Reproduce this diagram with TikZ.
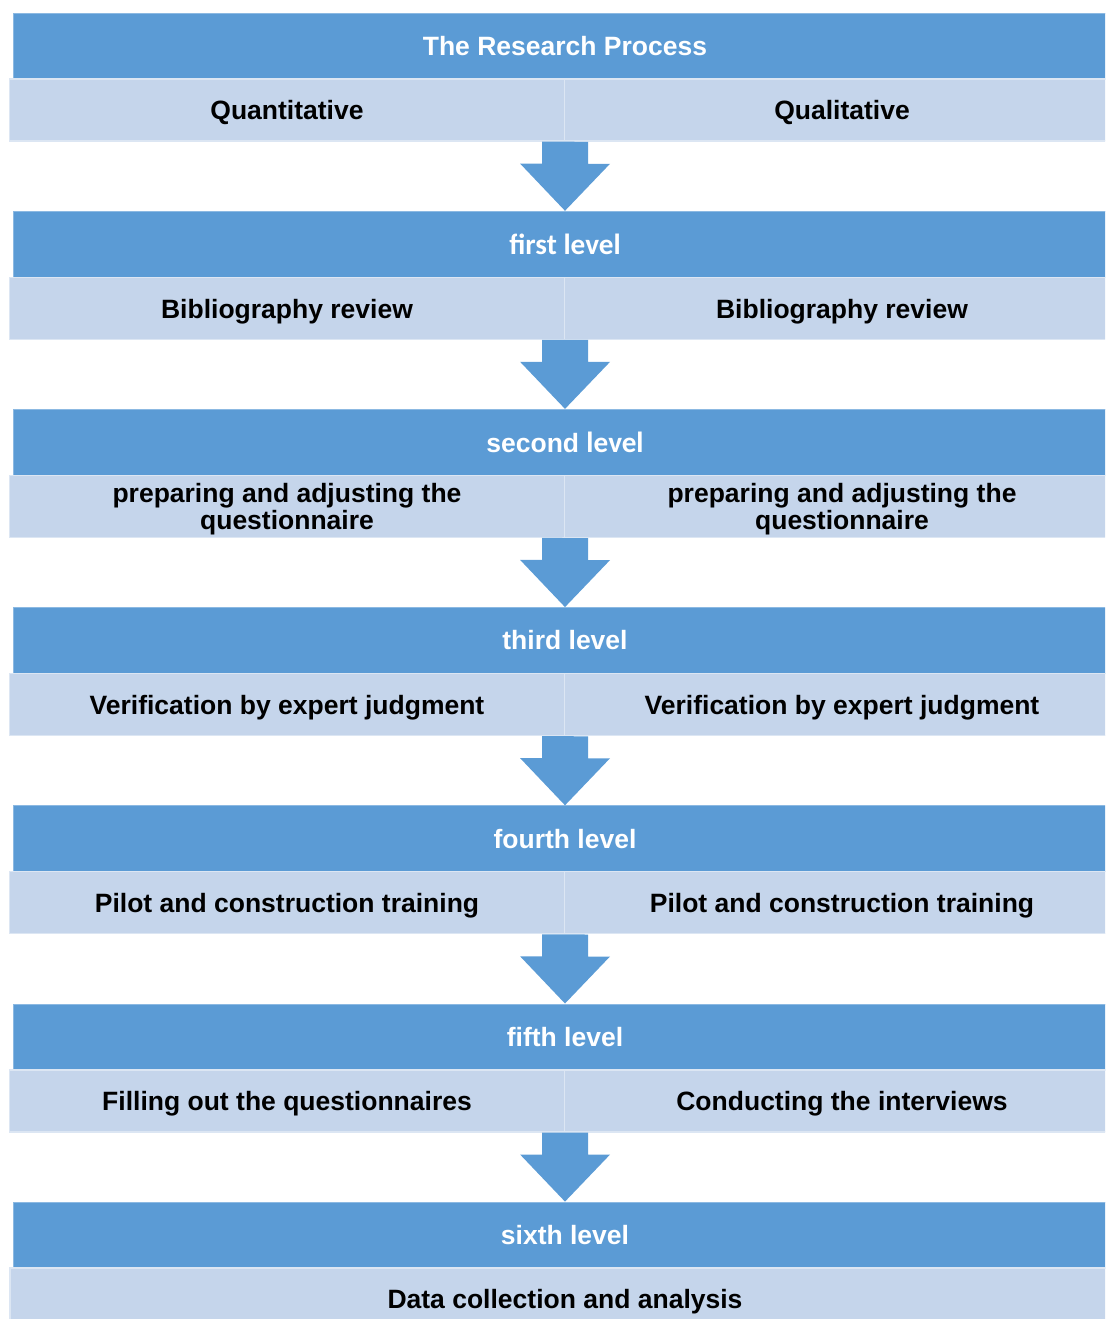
\documentclass[tikz,border=0pt]{standalone}
\usepackage{fontspec}
\setmainfont{Liberation Sans}
\newfontfamily\calfont{Carlito}

\definecolor{headblue}{HTML}{5B9BD5}
\definecolor{cellblue}{HTML}{C5D5EB}

\tikzset{
  head/.style={rectangle,fill=headblue,draw=headblue!70!white,line width=0.4pt,
    minimum width=552pt,minimum height=33pt,inner sep=0pt,
    text=white,font=\bfseries\fontsize{13.25pt}{13.5pt}\selectfont},
  cell/.style={rectangle,fill=cellblue,draw=cellblue!60!white,line width=0.6pt,
    minimum width=277.5pt,minimum height=31pt,inner sep=0pt,align=center,
    text height=11.4pt,text depth=1.5pt,
    text=black,font=\bfseries\fontsize{13.25pt}{13.5pt}\selectfont},
  twoline/.style={text height=25.5pt,text depth=2.1pt},
  flow/.style={fill=headblue}
}

\begin{document}
\begin{tikzpicture}[x=0.5pt,y=-0.5pt]

        \useasboundingbox (0,0) rectangle (1105,1319);
        \clip (0,0) rectangle (1105,1319);

        % level headers
        \node[head] (h0) at (565,46)     {The Research Process};
        \node[head] (h1) at (565,244.2)  {\calfont\fontsize{14.6pt}{15pt}\selectfont first level};
        \node[head] (h2) at (565,442.3)  {second {\calfont\fontsize{14.6pt}{15pt}\selectfont level}};
        \node[head] (h3) at (565,640.5)  {third level};
        \node[head] (h4) at (565,838.7)  {fourth level};
        \node[head] (h5) at (565,1036.9) {fifth level};
        \node[head] (h6) at (565,1235)   {sixth level};

        % quantitative / qualitative cells
        \node[cell] (l0) at (287,110)    {Quantitative};
        \node[cell] (r0) at (842,110)    {Qualitative};
        \node[cell] (l1) at (287,308.2)  {Bibliography review};
        \node[cell] (r1) at (842,308.2)  {Bibliography review};
        \node[cell,twoline] (l2) at (287,506.3)  {preparing and adjusting the\\questionnaire};
        \node[cell,twoline] (r2) at (842,506.3)  {preparing and adjusting the\\questionnaire};
        \node[cell] (l3) at (287,704.5)  {Verification by expert judgment};
        \node[cell] (r3) at (842,704.5)  {Verification by expert judgment};
        \node[cell] (l4) at (287,902.7)  {Pilot and construction training};
        \node[cell] (r4) at (842,902.7)  {Pilot and construction training};
        \node[cell] (l5) at (287,1100.9) {Filling out the questionnaires};
        \node[cell] (r5) at (842,1100.9) {Conducting the interviews};
        \node[cell,minimum width=555pt] (b6) at (565,1299) {Data collection and analysis};

        % block arrows between the levels
        \fill[flow] (l0.south east) ++(-23,0) -- ++(0,22) -- ++(-22,0) -- (h1.north) -- ++(45,-47) -- ++(-22,0) -- ++(0,-22) -- cycle;
        \fill[flow] (l1.south east) ++(-23,0) -- ++(0,22) -- ++(-22,0) -- (h2.north) -- ++(45,-47) -- ++(-22,0) -- ++(0,-22) -- cycle;
        \fill[flow] (l2.south east) ++(-23,0) -- ++(0,22) -- ++(-22,0) -- (h3.north) -- ++(45,-47) -- ++(-22,0) -- ++(0,-22) -- cycle;
        \fill[flow] (l3.south east) ++(-23,0) -- ++(0,22) -- ++(-22,0) -- (h4.north) -- ++(45,-47) -- ++(-22,0) -- ++(0,-22) -- cycle;
        \fill[flow] (l4.south east) ++(-23,0) -- ++(0,22) -- ++(-22,0) -- (h5.north) -- ++(45,-47) -- ++(-22,0) -- ++(0,-22) -- cycle;
        \fill[flow] (l5.south east) ++(-23,0) -- ++(0,22) -- ++(-22,0) -- (h6.north) -- ++(45,-47) -- ++(-22,0) -- ++(0,-22) -- cycle;

      \end{tikzpicture}
\end{document}
